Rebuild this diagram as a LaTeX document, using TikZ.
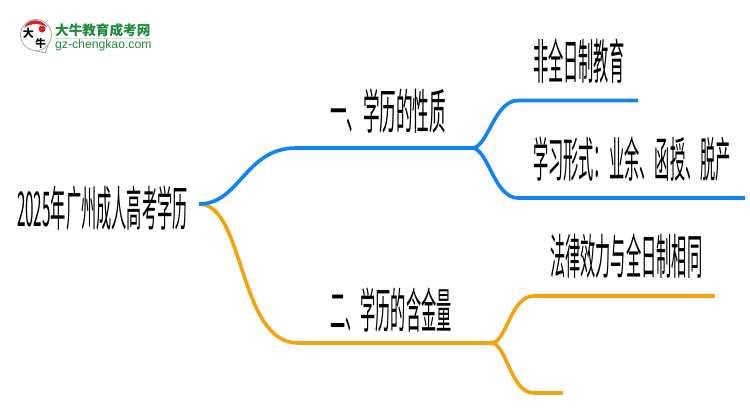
\documentclass[tikz,border=0pt]{standalone}
\usepackage{fontspec}
\setmainfont{Liberation Sans}
\newfontfamily\cjk{Noto Sans CJK SC}
\usetikzlibrary{positioning}
\definecolor{branchblue}{HTML}{1183F6}
\definecolor{branchorange}{HTML}{F3A30B}
\definecolor{logogreen}{HTML}{1E8A3C}
\definecolor{logored}{HTML}{D4252B}
\tikzset{
    %Define style for the squeezed labels
    lbl/.style={
           anchor=west,
           inner sep=0pt,
           xscale=0.317,
           transform shape,
           font=\fontsize{48}{48}\cjk},
    % Define branch styles
    bluepil/.style={
           draw=branchblue,
           line width=3.6pt},
    orangepil/.style={
           draw=branchorange,
           line width=3.6pt},
    %Define style for the logo text
    logotxt/.style={
           anchor=west,
           inner sep=0pt,
           text=logogreen}
}
\begin{document}
\begin{tikzpicture}[x=1pt,y=-1pt]
  \useasboundingbox (0,0) rectangle (750,410);
  % labels
  \node[lbl] (root) at (17,208) {2025年广州成人高考学历};
  \node[lbl,xscale=1.09] (first) at (330,111) {一、学历的性质};
  \node[lbl] (second) at (330,310) {二、学历的含金量};
  \node[lbl] (fulltime) at (533,61) {非全日制教育};
  \node[lbl] (forms) at (533,159) {学习形式：业余、函授、脱产};
  \node[lbl] (legal) at (550,256) {法律效力与全日制相同};
  % branch ends
  \coordinate (start) at (199,204);
  \coordinate (bluefork) at (472,148);
  \coordinate (orangefork) at (491,343);
  \coordinate (fulltimeend) at (638,100.5);
  \coordinate (formsend) at (745,198);
  \coordinate (legalend) at (715,296);
  \coordinate (emptyend) at (563,393);
  % branches
  \draw[orangepil] (start) .. controls (245,204) and (238,343) .. (298,343) -- (orangefork);
  \draw[orangepil,line cap=butt] (orangefork) .. controls (507,343) and (510,296) .. (534,296) -- (legalend);
  \draw[orangepil,line cap=butt] (orangefork) .. controls (507,343) and (510,393) .. (534,393) -- (emptyend);
  \draw[bluepil] (start) .. controls (240,204) and (245,148) .. (296,148) -- (bluefork);
  \draw[bluepil,line cap=butt] (bluefork) .. controls (488,148) and (494,100.5) .. (518,100.5) -- (fulltimeend);
  \draw[bluepil,line cap=butt] (bluefork) .. controls (488,148) and (494,198) .. (518,198) -- (formsend);
  % logo
  \node[circle,draw=black!35,line width=0.8pt,minimum size=31pt,inner sep=0pt] (bubble) at (36,35) {};
  \draw[black!35,line width=0.8pt] (bubble.south) -- (45,53) -- (bubble.-40);
  \fill[logored] (24,28) .. controls (27,19) and (41,17) .. (47,27) .. controls (40,23) and (30,23) .. (24,28);
  \node[circle,fill=logored,minimum size=7pt,inner sep=0pt] (seal) at (42,29) {};
  \node[inner sep=0pt,font=\fontsize{11}{11}\cjk\bfseries] (da) at (28.5,33) {大};
  \node[inner sep=0pt,font=\fontsize{10.5}{11}\cjk\bfseries] (niu) at (40.5,44) {牛};
  \node[logotxt,font=\fontsize{13.6}{14}\cjk\bfseries] (brand) at (55,30) {大牛教育成考网};
  \node[logotxt,font=\fontsize{12.2}{12}\selectfont,below=5pt of brand.south west,anchor=north west,yshift=2pt] (site) {gz-chengkao.com};
  \draw[logogreen!25,line width=0.8pt] (brand.south west) ++(0,1.5) -- ++(95,0);
\end{tikzpicture}
\end{document}
